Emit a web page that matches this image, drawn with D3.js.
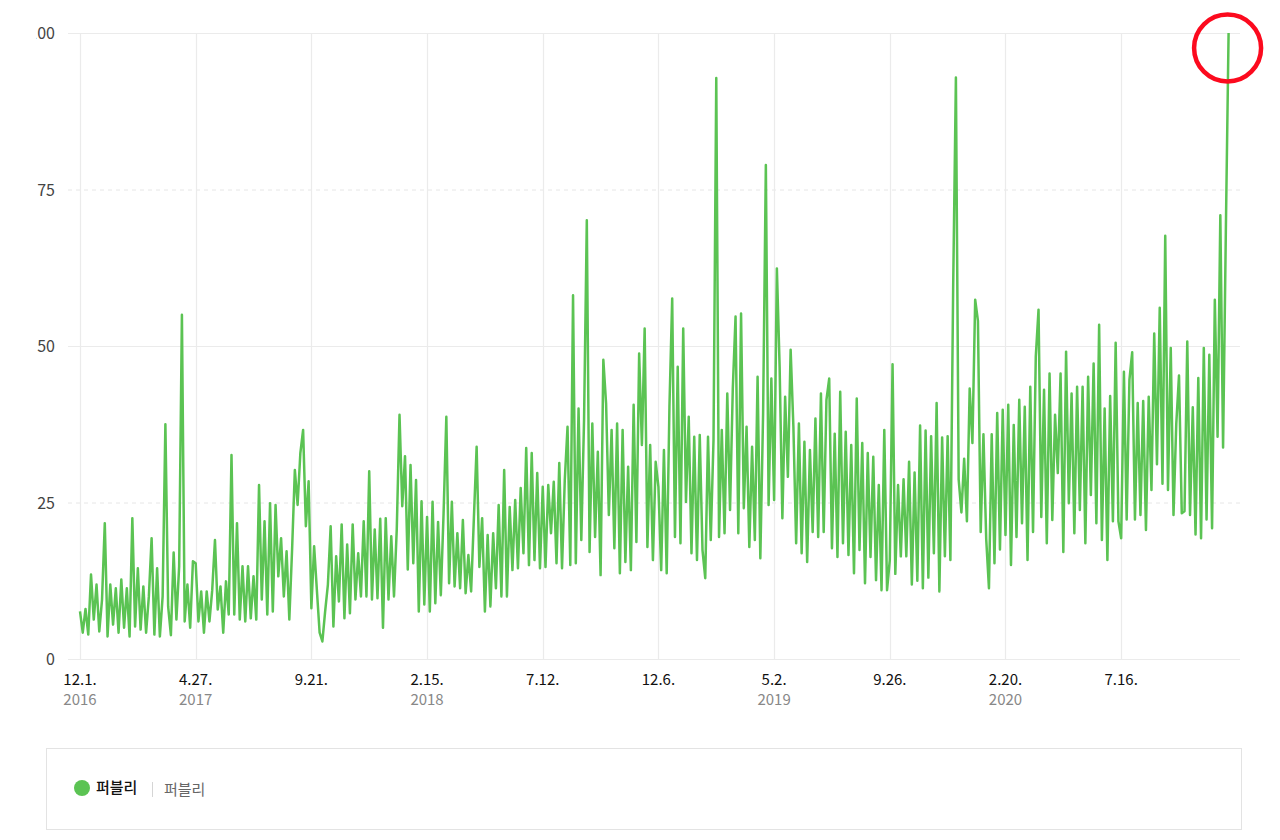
<!DOCTYPE html>
<html>
<head>
<meta charset="utf-8">
<script src="https://cdn.jsdelivr.net/npm/d3@7"></script>
<style>
  body { margin: 0; background: #fff; }
  svg text { font-family: "Noto Sans CJK KR", "Noto Sans", sans-serif; }
</style>
</head>
<body>
<div id="chart"></div>
<script>
// search index, one reading every half week starting 2016-12-01
var startDate = "2016-12-01";
var endDate = "2020-12-14";
var stepDays = 3.5;

var values = [
    // 12.1.2016 - 4.27.2017
    7.6,4.2,8.0,3.9,13.5,6.3,11.9,4.4,9.5,21.7,3.6,11.9,5.5,11.3,4.2,12.7,5.0,11.3,3.6,22.5,5.2,
    14.5,4.7,11.6,4.2,10.0,19.3,3.9,14.5,3.6,10.0,37.5,8.4,3.8,17.0,6.3,14.8,55.0,6.0,11.9,5.0,15.6,
    // 4.27. - 9.21.
    15.3,6.0,10.8,4.2,10.8,6.0,11.0,19.0,7.9,11.6,4.2,12.4,7.1,32.6,7.1,21.7,6.3,14.8,6.0,14.8,6.5,
    13.2,6.3,27.8,9.5,22.0,7.1,24.9,7.6,24.6,13.2,19.3,10.0,17.2,6.3,17.5,30.2,24.6,32.9,36.6,21.2,28.4,
    // 9.21. - 2.15.2018
    8.1,18.0,11.0,4.2,2.8,7.6,11.9,21.2,5.2,16.4,9.2,21.5,6.5,18.3,7.3,21.5,9.5,16.9,10.0,22.0,10.0,
    30.0,9.5,20.7,9.7,22.4,5.0,22.5,9.5,19.6,10.0,20.7,39.0,24.4,32.4,14.3,31.0,15.3,28.6,7.6,25.2,8.7,
    // 2.15. - 7.12.
    22.7,7.6,25.1,8.9,21.9,10.2,23.3,38.7,12.1,25.1,11.6,20.1,11.3,22.2,10.5,16.6,10.8,22.5,33.9,14.7,22.5,
    7.6,19.8,8.4,20.1,11.3,24.6,10.0,30.2,10.0,24.3,14.2,25.4,14.5,27.3,16.9,33.7,15.0,32.9,15.8,29.7,14.5,
    // 7.12. - 12.6.
    27.5,14.7,27.8,20.1,28.3,15.3,31.3,14.5,28.6,37.1,15.0,58.1,15.3,40.0,19.0,38.2,70.1,17.1,37.6,19.5,33.1,
    13.4,47.8,40.8,23.0,36.6,17.7,37.6,13.7,36.6,15.5,30.7,14.2,40.6,18.7,48.8,34.2,52.8,17.9,34.2,15.8,31.5,
    // 12.6. - 5.2.2019
    27.5,14.2,33.4,13.7,40.3,57.6,19.5,46.7,18.5,52.8,25.1,38.7,16.9,35.5,15.8,35.8,17.4,12.9,35.5,19.0,35.0,
    92.8,19.5,36.6,20.1,42.4,23.8,43.2,54.7,20.1,55.2,24.1,37.1,17.9,33.9,19.0,45.1,16.1,39.2,78.9,24.6,44.8,
    // 5.2. - 9.26.
    25.4,62.4,46.7,22.5,41.9,29.1,49.4,37.1,18.5,37.6,16.9,34.7,15.5,33.4,20.3,38.4,19.5,42.4,20.3,41.4,44.8,
    17.7,36.0,16.3,42.7,18.5,36.3,16.6,34.2,13.7,41.6,17.4,34.5,12.1,32.9,16.3,32.3,12.6,27.8,11.0,36.6,11.0,
    // 9.26. - 2.20.2020
    15.8,47.1,13.6,27.8,16.4,28.7,16.4,31.5,11.9,29.8,12.5,37.3,11.3,36.5,13.0,35.6,16.9,40.9,10.8,35.4,16.4,
    35.6,15.8,59.1,92.9,28.7,23.4,32.0,22.0,43.2,34.5,57.4,54.0,20.3,35.9,19.2,11.3,35.9,15.3,39.3,17.5,39.8,
    // 2.20. - 7.16.
    19.8,40.6,15.0,37.4,19.5,41.4,21.7,40.3,15.8,43.5,20.3,48.3,55.8,22.7,43.0,18.5,45.6,22.2,39.0,29.7,45.6,
    17.1,49.1,24.9,42.4,20.1,43.5,23.8,43.5,18.5,45.1,26.2,47.2,21.7,53.4,19.0,40.0,15.8,42.0,22.0,50.5,22.0,
    // 7.16. - end
    19.3,45.9,22.3,44.6,49.0,22.3,40.9,23.0,41.2,20.6,41.9,27.0,52.0,31.1,56.1,28.0,67.6,27.0,49.7,23.0,
    37.5,45.3,23.3,23.6,50.7,23.0,40.2,19.9,44.9,19.3,49.7,22.3,48.6,20.9,57.4,35.5,70.9,33.8,68.2,100
];

var tickDates = ["2016-12-01", "2017-04-27", "2017-09-21", "2018-02-15", "2018-07-12",
                 "2018-12-06", "2019-05-02", "2019-09-26", "2020-02-20", "2020-07-16"];
var yTicks = [0, 25, 50, 75, 100];
var seriesName = "퍼블리";
var groupName = "퍼블리";

var width = 1280, height = 840;
var lineColor = "#5bc353";

var parse = d3.timeParse("%Y-%m-%d");
var start = parse(startDate);

var data = values.map(function (v, i) {
    return { date: new Date(start.getTime() + i * stepDays * 864e5), value: v };
});

var svg = d3.select("#chart").append("svg")
    .attr("width", width)
    .attr("height", height);

var x = d3.scaleTime()
    .domain([start, parse(endDate)])
    .range([80, 1240]);

var y = d3.scaleLinear()
    .domain([0, 100])
    .range([659, 33]);

// grid
svg.append("g").selectAll("line.h")
    .data(yTicks)
    .enter().append("line")
    .attr("x1", 68).attr("x2", 1240)
    .attr("y1", d => y(d) + 0.5).attr("y2", d => y(d) + 0.5)
    .attr("stroke", d => d % 50 === 0 ? "#ebebeb" : "#e6e6e6")
    .attr("stroke-dasharray", d => d % 50 === 0 ? null : "4,4")
    .attr("stroke-width", 1);

svg.append("g").selectAll("line.v")
    .data(tickDates)
    .enter().append("line")
    .attr("x1", d => Math.round(x(parse(d))) + 0.5)
    .attr("x2", d => Math.round(x(parse(d))) + 0.5)
    .attr("y1", y(100)).attr("y2", y(0))
    .attr("stroke", "#ebebeb")
    .attr("stroke-width", 1.2);

// y labels (the left edge of the chart is cut, so the "1" of 100 is hidden)
svg.append("clipPath").attr("id", "yclip")
    .append("rect").attr("x", 36).attr("y", 0).attr("width", 40).attr("height", height);

svg.append("g").attr("clip-path", "url(#yclip)")
    .selectAll("text")
    .data(yTicks)
    .enter().append("text")
    .attr("x", 55)
    .attr("y", d => y(d) + 6)
    .attr("text-anchor", "end")
    .style("font-size", "16px")
    .style("fill", "#444")
    .text(d => d);

// x labels
var fmtMD = d3.timeFormat("%-m.%-d.");
var fmtY = d3.timeFormat("%Y");
var xLab = svg.append("g").selectAll("g")
    .data(tickDates)
    .enter().append("g")
    .attr("transform", d => "translate(" + x(parse(d)) + ",0)");

xLab.append("text")
    .attr("y", 685)
    .attr("text-anchor", "middle")
    .style("font-size", "15px")
    .style("fill", "#111")
    .text(d => fmtMD(parse(d)));

xLab.append("text")
    .attr("y", 705)
    .attr("text-anchor", "middle")
    .style("font-size", "15px")
    .style("fill", "#888")
    .text(function (d, i) {
        var yr = fmtY(parse(d));
        if (i === 0 || yr !== fmtY(parse(tickDates[i - 1]))) return yr;
        return "";
    });

// line
var line = d3.line()
    .x(d => x(d.date))
    .y(d => y(d.value));

svg.append("path")
    .datum(data)
    .attr("d", line)
    .attr("fill", "none")
    .attr("stroke", lineColor)
    .attr("stroke-width", 2.5)
    .attr("stroke-linejoin", "round");

// red mark around the last point
var last = data[data.length - 1];
svg.append("circle")
    .attr("cx", x(last.date) - 1)
    .attr("cy", y(last.value) + 15)
    .attr("r", 33.5)
    .attr("fill", "none")
    .attr("stroke", "#fc0a1e")
    .attr("stroke-width", 4.5);

// legend
svg.append("rect")
    .attr("x", 46.5).attr("y", 748.5)
    .attr("width", 1195).attr("height", 81)
    .attr("fill", "none")
    .attr("stroke", "#e3e3e3");

svg.append("circle")
    .attr("cx", 82).attr("cy", 788).attr("r", 8)
    .attr("fill", lineColor);

svg.append("text")
    .attr("x", 96).attr("y", 793)
    .style("font-size", "15px")
    .style("font-weight", "500")
    .style("fill", "#111")
    .text(seriesName);

svg.append("line")
    .attr("x1", 152.5).attr("x2", 152.5)
    .attr("y1", 782).attr("y2", 797)
    .attr("stroke", "#d5d5d5");

svg.append("text")
    .attr("x", 164).attr("y", 795)
    .style("font-size", "15px")
    .style("fill", "#666")
    .text(groupName);
</script>
</body>
</html>
